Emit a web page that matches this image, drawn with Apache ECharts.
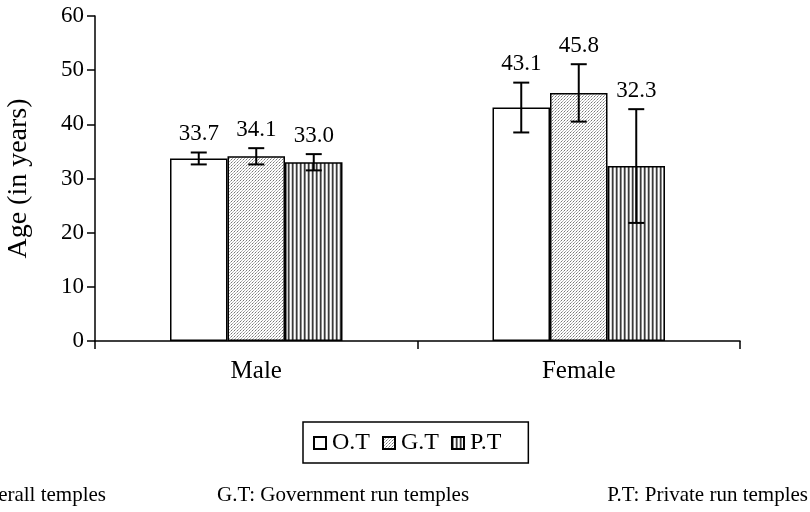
<!DOCTYPE html>
<html>
<head>
<meta charset="utf-8">
<script src="https://cdn.jsdelivr.net/npm/echarts@6/dist/echarts.min.js"></script>
<style>html,body{margin:0;padding:0;background:#fff}#c{width:810px;height:512px}</style>
</head>
<body>
<div id="c"></div>
<script>
var categories = ['Male', 'Female'];
var seriesNames = ['O.T', 'G.T', 'P.T'];
var valuesOT = [33.7, 43.1];
var valuesGT = [34.1, 45.8];
var valuesPT = [33.0, 32.3];
var errOT = [1.1, 4.6];
var errGT = [1.5, 5.3];
var errPT = [1.5, 10.5];
var yTicks = [0, 10, 20, 30, 40, 50, 60];
var footnotes = ['O.T: Overall temples', 'G.T: Government run temples', 'P.T: Private run temples'];

var FONT = 'Liberation Serif';
var BAR_W = 57.5;

function makePattern(kind) {
  var cv = document.createElement('canvas');
  var ctx;
  if (kind === 'dots') {
    cv.width = 3; cv.height = 3;
    ctx = cv.getContext('2d');
    ctx.fillStyle = '#fff'; ctx.fillRect(0, 0, 3, 3);
    ctx.fillStyle = '#777'; ctx.fillRect(0, 0, 1, 1);
    ctx.fillStyle = '#aaa'; ctx.fillRect(1, 2, 1, 1);
    ctx.fillStyle = '#bbb'; ctx.fillRect(2, 1, 1, 1);
  } else {
    cv.width = 4; cv.height = 4;
    ctx = cv.getContext('2d');
    ctx.fillStyle = '#fff'; ctx.fillRect(0, 0, 4, 4);
    ctx.fillStyle = '#3a3a3a'; ctx.fillRect(0, 0, 1, 4);
    ctx.fillStyle = '#8a8a8a'; ctx.fillRect(1, 0, 1, 4);
    ctx.fillStyle = '#cfcfcf'; ctx.fillRect(3, 0, 1, 4);
  }
  return { image: cv, repeat: 'repeat' };
}

var fills = ['#ffffff', makePattern('dots'), makePattern('stripes')];
var allValues = [valuesOT, valuesGT, valuesPT];
var allErr = [errOT, errGT, errPT];

var series = [];
for (var s = 0; s < 3; s++) {
  series.push({
    name: seriesNames[s],
    type: 'bar',
    data: allValues[s],
    barWidth: BAR_W,
    barGap: '0%',
    itemStyle: { color: fills[s], borderColor: '#000', borderWidth: 1.5 },
    emphasis: { disabled: true },
    animation: false
  });
}

var errData = [];
for (var s2 = 0; s2 < 3; s2++) {
  for (var c = 0; c < categories.length; c++) {
    var v = allValues[s2][c], e = allErr[s2][c];
    errData.push([c, v - e, v + e, s2, v]);
  }
}

series.push({
  type: 'custom',
  name: 'err',
  data: errData,
  encode: { x: 0, y: [1, 2] },
  animation: false,
  silent: true,
  z: 10,
  renderItem: function (params, api) {
    var ci = api.value(0);
    var k = api.value(3);
    var lo = api.coord([ci, api.value(1)]);
    var hi = api.coord([ci, api.value(2)]);
    var x = lo[0] + (k - 1) * BAR_W;
    var cap = 8;
    var st = { stroke: '#000', lineWidth: 2 };
    return {
      type: 'group',
      children: [
        { type: 'line', shape: { x1: x, y1: lo[1], x2: x, y2: hi[1] }, style: st },
        { type: 'line', shape: { x1: x - cap, y1: lo[1], x2: x + cap, y2: lo[1] }, style: st },
        { type: 'line', shape: { x1: x - cap, y1: hi[1], x2: x + cap, y2: hi[1] }, style: st },
        { type: 'text', x: x, y: hi[1] - 7, style: {
            text: api.value(4).toFixed(1), fill: '#000', font: '23px "' + FONT + '"',
            textAlign: 'center', textVerticalAlign: 'bottom' } }
      ]
    };
  }
});

var chart = echarts.init(document.getElementById('c'), null, { renderer: 'canvas' });
chart.setOption({
  backgroundColor: '#fff',
  animation: false,
  textStyle: { fontFamily: FONT, color: '#000' },
  grid: { left: 95, right: 70, top: 16, bottom: 171, containLabel: false, outerBoundsMode: 'none' },
  legend: {
    data: seriesNames,
    left: 303, top: 422,
    orient: 'horizontal',
    itemWidth: 12, itemHeight: 12, itemGap: 12,
    padding: [9, 27, 8, 10],
    borderColor: '#000', borderWidth: 1.5,
    icon: 'rect',
    selectedMode: false,
    textStyle: { fontFamily: FONT, fontSize: 24, color: '#000', padding: [0, 0, 0, 1] }
  },
  xAxis: {
    type: 'category',
    data: categories,
    axisLine: { lineStyle: { color: '#000', width: 1.5 } },
    axisTick: { show: true, length: 8, lineStyle: { color: '#000', width: 1.5 } },
    axisLabel: { fontFamily: FONT, fontSize: 25, color: '#000', margin: 18 }
  },
  yAxis: {
    type: 'value',
    min: yTicks[0], max: yTicks[yTicks.length - 1], interval: 10,
    name: 'Age (in years)',
    nameLocation: 'middle',
    nameGap: 62,
    nameTextStyle: { fontFamily: FONT, fontSize: 28, color: '#000' },
    axisLine: { show: true, lineStyle: { color: '#000', width: 1.5 } },
    axisTick: { show: true, length: 8, lineStyle: { color: '#000', width: 1.5 } },
    axisLabel: { fontFamily: FONT, fontSize: 23, color: '#000', margin: 11 },
    splitLine: { show: false }
  },
  graphic: [
    { type: 'text', right: 704, top: 485, style: { text: footnotes[0], font: '21px "' + FONT + '"', fill: '#000' } },
    { type: 'text', left: 217, top: 485, style: { text: footnotes[1], font: '21px "' + FONT + '"', fill: '#000' } },
    { type: 'text', right: 2, top: 485, style: { text: footnotes[2], font: '21px "' + FONT + '"', fill: '#000' } }
  ],
  series: series
});
</script>
</body>
</html>
